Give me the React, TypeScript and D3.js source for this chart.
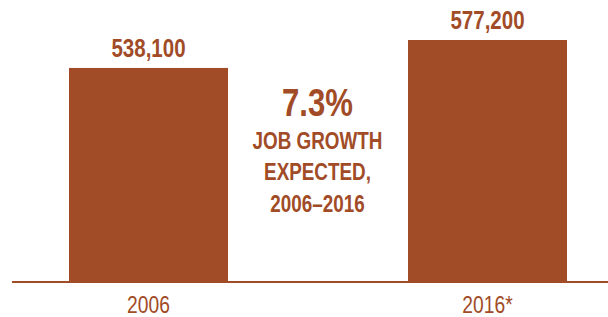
import React, { useEffect, useRef } from 'react';
import * as d3 from 'd3';

// data
const years = ['2006', '2016*'];
const jobs = [538100, 577200];
const growthLabel = '7.3%';
const growthLines = ['JOB GROWTH', 'EXPECTED,', '2006–2016'];

const COLOR = '#A14C27';
// no narrow font installed, so Liberation Sans is squeezed horizontally
const FONT = '"Liberation Sans", Arial, sans-serif';
const SQUEEZE = 0.82;

const App = () => {
  const svgRef = useRef<SVGSVGElement>(null);

  useEffect(() => {
    const width = 608;
    const height = 317;
    const svg = d3.select(svgRef.current);
    svg.selectAll('*').remove();

    const baseY = 281;

    // band scale for the two years
    const x = d3.scaleBand<string>()
      .domain(years)
      .range([69, 567])
      .paddingInner(0.531)
      .paddingOuter(0);

    // value axis does not start at zero in the original
    const y = d3.scaleLinear()
      .domain([240000, d3.max(jobs) as number])
      .range([baseY, 40]);

    const rows = years.map((yr, i) => ({ yr, v: jobs[i] }));
    const mid = (d: { yr: string }) => x(d.yr)! + x.bandwidth() / 2;
    const place = (px: number, py: number) => `translate(${px},${py}) scale(${SQUEEZE},1)`;

    // bars
    svg.append('g')
      .selectAll('rect')
      .data(rows)
      .join('rect')
      .attr('x', d => x(d.yr)!)
      .attr('y', d => y(d.v))
      .attr('width', x.bandwidth())
      .attr('height', d => baseY - y(d.v))
      .attr('fill', COLOR);

    // baseline
    svg.append('line')
      .attr('x1', 12)
      .attr('x2', width)
      .attr('y1', baseY + 1)
      .attr('y2', baseY + 1)
      .attr('stroke', COLOR)
      .attr('stroke-width', 2);

    // value labels above bars
    svg.append('g')
      .selectAll('text')
      .data(rows)
      .join('text')
      .attr('transform', d => place(mid(d), y(d.v) - 11))
      .attr('text-anchor', 'middle')
      .attr('font-family', FONT)
      .attr('font-weight', 'bold')
      .attr('font-size', 25)
      .attr('fill', COLOR)
      .text(d => d3.format(',')(d.v));

    // year labels
    svg.append('g')
      .selectAll('text')
      .data(rows)
      .join('text')
      .attr('transform', d => place(mid(d), 312.5))
      .attr('text-anchor', 'middle')
      .attr('font-family', FONT)
      .attr('font-size', 23.5)
      .attr('fill', COLOR)
      .text(d => d.yr);

    // middle callout
    const cx = 317.5;
    svg.append('text')
      .attr('transform', place(cx, 116))
      .attr('text-anchor', 'middle')
      .attr('font-family', FONT)
      .attr('font-weight', 'bold')
      .attr('font-size', 38)
      .attr('fill', COLOR)
      .text(growthLabel);

    svg.append('g')
      .selectAll('text')
      .data(growthLines)
      .join('text')
      .attr('transform', (_, i) => place(cx, 148.5 + i * 31.5))
      .attr('text-anchor', 'middle')
      .attr('font-family', FONT)
      .attr('font-weight', 'bold')
      .attr('font-size', 23)
      .attr('fill', COLOR)
      .text(d => d);

    svg.attr('width', width).attr('height', height);
  }, []);

  return (
    <svg
      ref={svgRef}
      width={608}
      height={317}
      style={{ position: 'absolute', left: 0, top: 0, background: '#fff' }}
    />
  );
};

export default App;
